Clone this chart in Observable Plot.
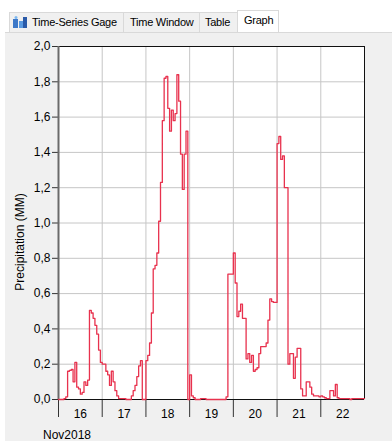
<!DOCTYPE html>
<html>
<head>
<meta charset="utf-8">
<script src="https://cdn.jsdelivr.net/npm/d3@7"></script>
<script src="https://cdn.jsdelivr.net/npm/@observablehq/plot@0.6"></script>
<style>
  html, body { margin: 0; padding: 0; background: #ffffff; }
  body { width: 392px; height: 441px; position: relative; overflow: hidden; font-family: "Liberation Sans", Arial, sans-serif; }
  #tabs { position: absolute; left: 0; top: 0; width: 392px; height: 32px; }
  .tab { position: absolute; top: 12px; height: 20px; box-sizing: border-box; background: #f0f0f0; border: 1px solid #d9d9d9; border-bottom: none; font-size: 11px; letter-spacing: -0.25px; line-height: 19px; color: #000; white-space: nowrap; }
  .tab.sel { top: 10px; height: 23px; background: #ffffff; border-color: #d9d9d9; }
  #panel { position: absolute; left: 5px; top: 32px; width: 387px; height: 409px; background: #f0f0f0; border-top: 1px solid #d9d9d9; box-sizing: border-box; }
  #chart { position: absolute; left: 0; top: 30px; }
  .ylab { position: absolute; left: 20px; top: 242px; transform: translate(-50%, -50%) rotate(-90deg); font-size: 12px; white-space: nowrap; color: #000; }
  .xunit { position: absolute; left: 43px; top: 428px; font-size: 12px; color: #000; }
  .icon { position: absolute; left: 3px; top: 3px; width: 14px; height: 12px; }
</style>
</head>
<body>
<div id="tabs">
  <div class="tab" style="left:9px;width:115px;">
    <svg class="icon" viewBox="0 0 14 12"><rect x="0" y="3" width="5" height="9" fill="#3c78c8"/><rect x="6" y="5" width="4" height="7" fill="#5a9ae0"/><rect x="10" y="1" width="4" height="11" fill="#2a5aa8"/><circle cx="3" cy="1.5" r="1.5" fill="#7cb8f0"/></svg>
    <span style="position:absolute;left:22px;">Time-Series Gage</span>
  </div>
  <div class="tab" style="left:123px;width:77px;"><span style="position:absolute;left:6px;">Time Window</span></div>
  <div class="tab" style="left:199px;width:39px;"><span style="position:absolute;left:5px;">Table</span></div>
  <div class="tab sel" style="left:237px;width:42px;"><span style="position:absolute;left:6px;top:0px;">Graph</span></div>
</div>
<div id="panel"></div>
<div id="chart"></div>
<div class="ylab">Precipitation (MM)</div>
<div class="xunit">Nov2018</div>
<script>
// Hourly precipitation (mm), one array per day, hour 00 .. 23
const nov16 = [0, 0, 0, 0.005, 0.015, 0.16, 0.165, 0.17, 0.1, 0.21, 0.07, 0.06, 0.03, 0.04, 0.1, 0.08, 0.11, 0.505, 0.49, 0.46, 0.42, 0.37, 0.28, 0.21];
const nov17 = [0.2, 0.2, 0.16, 0.14, 0.08, 0.16, 0.1, 0.05, 0.02, 0.005, 0.005, 0.005, 0.005, 0, 0, 0, 0.02, 0.05, 0.08, 0.13, 0.19, 0.22, 0, 0];
const nov18 = [0.22, 0.25, 0.32, 0.49, 0.74, 0.76, 0.83, 1.01, 1.23, 1.58, 1.82, 1.83, 1.65, 1.52, 1.64, 1.58, 1.62, 1.84, 1.69, 1.39, 1.19, 1.39, 1.52, 0];
const nov19 = [0.14, 0.02, 0.01, 0, 0, 0, 0.005, 0.005, 0.005, 0, 0, 0, 0, 0, 0, 0, 0, 0, 0, 0, 0.015, 0.71, 0.71, 0.71];
const nov20 = [0.83, 0.66, 0.47, 0.5, 0.54, 0.46, 0.46, 0.23, 0.26, 0.21, 0.25, 0.16, 0.17, 0.18, 0.26, 0.3, 0.3, 0.3, 0.32, 0.45, 0.57, 0.555, 0.55, 0.55];
const nov21 = [1.45, 1.49, 1.36, 1.38, 1.2, 1.2, 0.2, 0.26, 0.26, 0.12, 0.24, 0.29, 0.29, 0.06, 0.02, 0.02, 0.1, 0.1, 0.07, 0.03, 0.02, 0.02, 0.02, 0.015];
const nov22 = [0.02, 0.015, 0.01, 0.005, 0.005, 0.05, 0.05, 0.02, 0.085, 0.01, 0.005, 0.005, 0.005, 0.005, 0.005, 0.005, 0, 0.005, 0.005, 0.005, 0.005, 0.005, 0.005, 0.005];

const dayLabels = ["16", "17", "18", "19", "20", "21", "22"];
const yTicks = [0, 0.2, 0.4, 0.6, 0.8, 1.0, 1.2, 1.4, 1.6, 1.8, 2.0];
const yTickLabels = ["0,0", "0,2", "0,4", "0,6", "0,8", "1,0", "1,2", "1,4", "1,6", "1,8", "2,0"];

const HOUR = 3600e3;
const start = new Date(Date.UTC(2018, 10, 16));
const end = new Date(Date.UTC(2018, 10, 23));
const values = [...nov16, ...nov17, ...nov18, ...nov19, ...nov20, ...nov21, ...nov22];
const rows = values.map((v, i) => ({date: new Date(+start + i * HOUR), value: v}));
rows.push({date: end, value: values[values.length - 1]});

const dayStarts = d3.utcDay.range(start, d3.utcDay.offset(end, 1));
const dayNoons = dayLabels.map((_, i) => new Date(+start + (i * 24 + 12) * HOUR));

const chart = Plot.plot({
  width: 392,
  height: 411,
  marginLeft: 58,
  marginRight: 28,
  marginTop: 16,
  marginBottom: 42,
  style: {background: "transparent", fontFamily: "'Liberation Sans', Arial, sans-serif", fontSize: "12px", color: "#000"},
  x: {type: "utc", domain: [start, end]},
  y: {domain: [0, 2]},
  marks: [
    Plot.frame({fill: "white", stroke: null}),
    Plot.gridY(yTicks.slice(1, -1), {stroke: "#c6c6c6", strokeOpacity: 1}),
    Plot.gridX(dayStarts.slice(1, -1), {stroke: "#c6c6c6", strokeOpacity: 1}),
    Plot.axisY(yTicks, {tickSize: 6, tickPadding: 2, tickFormat: (d) => yTickLabels[yTicks.indexOf(d)], label: null, stroke: "#333"}),
    Plot.axisX(dayStarts.slice(0, -1), {tickSize: 18, tickFormat: () => "", label: null, stroke: "#333"}),
    Plot.axisX(dayNoons, {tickSize: 0, tickPadding: 10, tickFormat: (d, i) => dayLabels[i], label: null}),
    Plot.ruleY([2], {stroke: "#111"}),
    Plot.ruleX([end], {stroke: "#111"}),
    Plot.ruleY([0], {stroke: "#111"}),
    Plot.ruleX([start], {stroke: "#6a6a6a", strokeWidth: 2}),
    Plot.lineY(rows, {x: "date", y: "value", curve: "step-after", stroke: "#e8324e", strokeWidth: 1.3})
  ]
});
document.getElementById("chart").appendChild(chart);
</script>
</body>
</html>
